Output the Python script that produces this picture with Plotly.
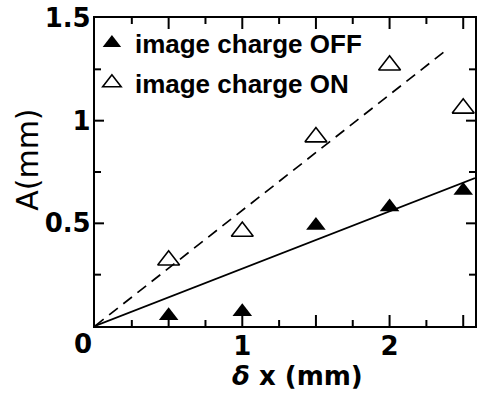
import plotly.graph_objects as go

dx = [0.5, 1.0, 1.5, 2.0, 2.5]
amp_off = [0.05, 0.07, 0.49, 0.58, 0.66]
amp_on = [0.32, 0.46, 0.92, 1.27, 1.06]

fit_off_x = [0, 2.58]
fit_off_y = [0, 0.72]
fit_on_x = [0, 2.37]
fit_on_y = [0, 1.335]

x_range = [0, 2.58]
y_range = [0, 1.5]
x_tickvals = [0, 0.5, 1, 1.5, 2, 2.5]
x_ticktext = ["", "", "1", "", "2", ""]
x_minor = [0.25, 0.75, 1.25, 1.75, 2.25]
y_tickvals = [0, 0.5, 1, 1.5]
y_ticktext = ["", "0.5", "1", "1.5"]
y_minor = [0.25, 0.75, 1.25]

W, H = 478, 397
M = dict(l=95, r=3, t=18, b=71)
TICK_FONT = dict(family="DejaVu Sans", size=26, color="black", weight="bold")
LEG_FONT = dict(family="Liberation Sans", size=26, color="black", weight="bold")

fig = go.Figure()
fig.add_trace(go.Scatter(x=fit_on_x, y=fit_on_y, mode="lines",
                         line=dict(color="black", width=1.7, dash="11px,7px"),
                         showlegend=False, hoverinfo="skip"))
fig.add_trace(go.Scatter(x=fit_off_x, y=fit_off_y, mode="lines",
                         line=dict(color="black", width=1.7),
                         showlegend=False, hoverinfo="skip"))

# inward tick marks on all four sides, built from the tick arrays (pixel length -> data units)
x_per_px = (x_range[1] - x_range[0]) / (W - M["l"] - M["r"])
y_per_px = (y_range[1] - y_range[0]) / (H - M["t"] - M["b"])
tx, ty = [], []
for vals, length in ((x_tickvals[1:], 11), (x_minor, 6)):
    for v in vals:
        tx += [v, v, None, v, v, None]
        ty += [y_range[0], y_range[0] + length * y_per_px, None,
               y_range[1], y_range[1] - length * y_per_px, None]
for vals, length in ((y_tickvals[1:-1], 9), (y_minor, 6)):
    for v in vals:
        tx += [x_range[0], x_range[0] + length * x_per_px, None,
               x_range[1], x_range[1] - length * x_per_px, None]
        ty += [v, v, None, v, v, None]
fig.add_trace(go.Scatter(x=tx, y=ty, mode="lines", line=dict(color="black", width=2),
                         showlegend=False, hoverinfo="skip", connectgaps=False))

fig.add_trace(go.Scatter(x=dx, y=amp_off, mode="markers", name="image charge OFF",
                         legendgroup="off",
                         marker=dict(symbol="triangle-up", size=17, color="black",
                                     line=dict(width=0))))
fig.add_trace(go.Scatter(x=dx, y=amp_on, mode="markers", name="image charge ON",
                         legendgroup="on",
                         marker=dict(symbol="triangle-up-open", size=19, color="black",
                                     line=dict(width=1.6))))

fig.add_annotation(x=0, y=0, xref="x", yref="y", text="0", showarrow=False,
                   xshift=-12, yshift=-18, font=TICK_FONT)
fig.add_annotation(x=0.534, y=-0.162, xref="paper", yref="paper",
                   xanchor="center", yanchor="middle",
                   text="<i>δ</i> x (mm)", showarrow=False, font=TICK_FONT)
fig.add_annotation(x=-0.176, y=0.54, xref="paper", yref="paper", text="A(mm)",
                   xanchor="center", yanchor="middle",
                   textangle=-90, showarrow=False,
                   font=dict(family="DejaVu Sans", size=30, color="black"))

common = dict(showline=True, linecolor="black", linewidth=2.2, mirror=True,
              showgrid=False, zeroline=False, ticks="")

fig.update_layout(
    xaxis=dict(range=x_range, tickmode="array", tickvals=x_tickvals, ticktext=x_ticktext,
               tickfont=TICK_FONT, ticklabelstandoff=-4, **common),
    yaxis=dict(range=y_range, tickmode="array", tickvals=y_tickvals, ticktext=y_ticktext,
               tickfont=TICK_FONT, ticklabelstandoff=-3, **common),
)

fig.update_layout(template="none", width=W, height=H, margin=M,
                  paper_bgcolor="white", plot_bgcolor="white",
                  showlegend=True, hovermode=False,
                  legend=dict(x=-0.016, y=0.995, xanchor="left", yanchor="top",
                              bgcolor="rgba(0,0,0,0)", traceorder="grouped",
                              tracegroupgap=3, itemwidth=36, font=LEG_FONT))

fig.write_html("out.html", config={"displayModeBar": False},
               post_script="document.body.style.margin='0';document.body.style.padding='0';")
